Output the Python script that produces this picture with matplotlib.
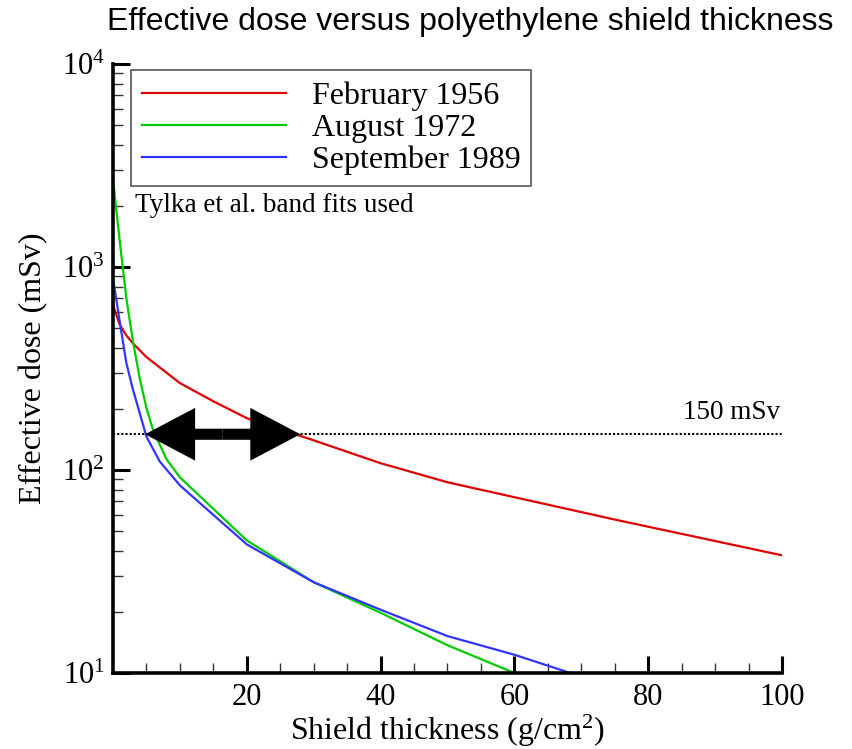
import numpy as np
import matplotlib.pyplot as plt
from matplotlib.ticker import FixedLocator, LogLocator, NullFormatter, LogFormatterMathtext

plt.rcParams['font.family'] = ['Liberation Serif', 'DejaVu Serif']
plt.rcParams['mathtext.fontset'] = 'custom'
plt.rcParams['mathtext.rm'] = 'Liberation Serif'
plt.rcParams['mathtext.default'] = 'regular'

# Shield thickness (g/cm^2) and effective dose (mSv)
thick_feb = [0, 1, 2, 3, 5, 10, 15, 20, 30, 40, 50, 75, 100]
dose_feb = [650, 520, 460, 420, 360, 268, 218, 180, 140, 108, 87, 57, 38]

thick_aug = [0, 1, 2, 3, 4, 5, 6, 8, 10, 20, 30, 40, 50, 60]
dose_aug = [2700, 1350, 700, 427, 282, 202, 157, 113, 92, 45, 28, 19.8, 13.7, 10]

thick_sep = [0, 1, 2, 3, 5, 7, 10, 20, 30, 40, 50, 60, 70]
dose_sep = [880, 540, 336, 248, 146, 110, 84, 43, 28, 20.5, 15.2, 12.3, 9.6]

limit_dose = 150
arrow_ends = [4.8, 28.0]

fig = plt.figure(figsize=(8.52, 7.49), dpi=100)
ax = fig.add_axes([113/852, 1 - 673/749, 669/852, 609/749])

ax.plot(thick_feb, dose_feb, color='#e00000', lw=1.6, label='February 1956')
ax.plot(thick_aug, dose_aug, color='#00cc00', lw=1.6, label='August 1972')
ax.plot(thick_sep, dose_sep, color='#3333ff', lw=1.6, label='September 1989')

# 150 mSv reference line
ax.axhline(limit_dose, color='black', lw=1.5, ls=(0, (1, 1)))
ax.text(0.997, 0.427, '150 mSv', transform=ax.transAxes, ha='right', va='center', fontsize=19.5)

# double-headed arrow
mid = (arrow_ends[0] + arrow_ends[1]) / 2
for end in arrow_ends:
    ax.annotate('', xy=(end, limit_dose), xytext=(mid, limit_dose),
                arrowprops=dict(arrowstyle='simple,head_length=36,head_width=38,tail_width=8',
                                mutation_scale=1, fc='black', ec='none',
                                shrinkA=0, shrinkB=0))

ax.set_yscale('log')
ax.set_xlim(0, 100)
ax.set_ylim(10, 1e4)

ax.xaxis.set_major_locator(FixedLocator([20, 40, 60, 80, 100]))
ax.xaxis.set_minor_locator(FixedLocator([5, 10, 15, 25, 30, 35, 45, 50, 55, 65, 70, 75, 85, 90, 95]))
ax.yaxis.set_major_locator(LogLocator(base=10))
ax.yaxis.set_major_formatter(LogFormatterMathtext())
ax.yaxis.set_minor_locator(LogLocator(base=10, subs=np.arange(2, 10)))
ax.yaxis.set_minor_formatter(NullFormatter())

ax.tick_params(which='major', direction='in', length=12, width=2.2, labelsize=22)
ax.tick_params(which='minor', direction='in', length=7, width=1.0, color='#333333')
ax.tick_params(axis='y', which='major', pad=6)
ax.tick_params(axis='x', which='major', pad=7)

for s in ['top', 'right']:
    ax.spines[s].set_visible(False)
for s in ['left', 'bottom']:
    ax.spines[s].set_linewidth(2.6)

ax.set_xlabel('Shield thickness (g/cm$^2$)', fontsize=23, labelpad=1)
ax.set_ylabel('Effective dose (mSv)', fontsize=23, labelpad=10)

leg = ax.legend(loc='upper left', bbox_to_anchor=(0.027, 0.99), fontsize=23,
                handlelength=4.5, handletextpad=0.8, labelspacing=0.08,
                borderpad=0.35, borderaxespad=0, fancybox=False, framealpha=1)
leg.get_frame().set_edgecolor('#555555')
leg.get_frame().set_linewidth(1.2)

ax.text(0.033, 0.768, 'Tylka et al. band fits used', transform=ax.transAxes,
        ha='left', va='center', fontsize=19.5)

fig.text(470/852, 1 - 22/749, 'Effective dose versus polyethylene shield thickness',
         ha='center', va='center', fontsize=23, family=['Liberation Sans', 'DejaVu Sans'])

fig.savefig('out.png', dpi=100)
